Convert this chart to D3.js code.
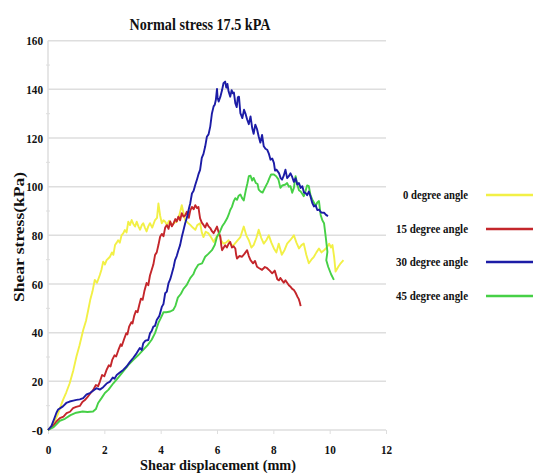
<!DOCTYPE html>
<html>
<head>
<meta charset="utf-8">
<script src="https://cdn.jsdelivr.net/npm/d3@7/dist/d3.min.js"></script>
<style>
  html, body { margin: 0; padding: 0; background: #fff; }
  svg { display: block; }
  text { font-family: "Liberation Serif", "Times New Roman", serif; font-weight: bold; fill: #111; }
</style>
</head>
<body>
<svg id="chart" width="541" height="473"></svg>
<script>
// Shear stress vs. shear displacement, normal stress 17.5 kPa
const seriesNames = ["0 degree angle", "15 degree angle", "30 degree angle", "45 degree angle"];
const seriesColors = ["#f2f046", "#c4262b", "#1c1ca6", "#46d046"];

const xTicks = [0, 2, 4, 6, 8, 10, 12];
const yTicks = [0, 20, 40, 60, 80, 100, 120, 140, 160];
const yTickLabels = ["-0", "20", "40", "60", "80", "100", "120", "140", "160"];

// [displacement (mm), shear stress (kPa)]
const angle0 = [[0,0],[0.2,2.6],[0.35,6.5],[0.53,12.3],[0.65,15.5],[0.77,19.2],[0.9,24.6],[1.01,30.2],[1.12,34.8],[1.25,41.1],[1.35,44.9],[1.43,49.4],[1.5,53.5],[1.58,57],[1.66,61.7],[1.74,60.5],[1.84,63.7],[1.9,66],[1.96,69.2],[2.02,68],[2.08,69.8],[2.14,70.5],[2.2,71.2],[2.27,73],[2.32,72],[2.38,76],[2.44,77],[2.49,78],[2.55,77],[2.61,80],[2.67,80.8],[2.73,82.2],[2.79,81.2],[2.85,85.6],[2.91,84.2],[2.97,86.3],[3.03,84.7],[3.09,83.6],[3.15,85.6],[3.21,83.7],[3.27,82.3],[3.33,84.2],[3.38,85],[3.44,83.2],[3.5,81.6],[3.56,83.7],[3.62,85],[3.7,83.2],[3.8,86.3],[3.87,87.2],[3.92,93.1],[3.98,88.2],[4.04,85],[4.1,86.2],[4.16,85.6],[4.22,84.2],[4.3,86],[4.4,84.3],[4.49,85.2],[4.57,85.6],[4.66,88.2],[4.75,92.4],[4.81,89.2],[4.87,86.3],[4.96,85.2],[5.05,84.3],[5.14,83.2],[5.23,82.3],[5.3,84.2],[5.4,85],[5.46,81.2],[5.52,79.3],[5.6,81.5],[5.7,80.8],[5.8,79],[5.88,77.3],[5.96,79],[6.06,80.8],[6.14,78],[6.23,76.6],[6.32,77],[6.41,78],[6.5,76],[6.59,76],[6.7,77.5],[6.83,79.3],[6.95,83.6],[7.04,80],[7.13,78],[7.22,75],[7.3,76],[7.4,79],[7.48,82.3],[7.57,79],[7.66,76.6],[7.75,78],[7.84,80],[7.93,77],[8.02,74.6],[8.11,73],[8.19,76.6],[8.3,72],[8.4,74],[8.49,76.6],[8.6,78],[8.73,80],[8.82,77],[8.91,74.6],[9.0,76],[9.08,76.6],[9.17,72],[9.26,68.5],[9.35,70],[9.44,71.2],[9.53,73],[9.62,74.6],[9.71,73],[9.8,73.9],[9.9,75],[9.98,76.6],[10.05,75],[10.1,76],[10.16,71],[10.21,65.1],[10.3,67],[10.39,68.5],[10.49,69.8]];

const angle15 = [[0,0],[0.15,1.2],[0.3,3.5],[0.42,4.9],[0.55,5.5],[0.66,6.9],[0.78,7.5],[0.89,9],[1.0,9.5],[1.13,9.9],[1.22,11.5],[1.31,12.3],[1.4,13.5],[1.5,15],[1.6,16.4],[1.7,18.5],[1.78,18],[1.84,19.8],[1.92,22.6],[2.0,22.1],[2.08,24.7],[2.16,26.6],[2.22,26.1],[2.28,28.8],[2.36,30.7],[2.42,30.2],[2.5,32.9],[2.58,35.2],[2.62,34.5],[2.7,37.3],[2.78,39.8],[2.82,39.3],[2.88,42.5],[2.96,44.3],[3.0,43.8],[3.06,46.9],[3.12,48.9],[3.18,48.4],[3.24,51.4],[3.3,54],[3.36,53.5],[3.42,57],[3.5,60.4],[3.56,59.5],[3.62,63.5],[3.68,65.8],[3.74,68],[3.8,71.9],[3.86,73],[3.92,76],[3.98,79.4],[4.04,80.6],[4.1,79.6],[4.16,83.2],[4.22,84.2],[4.28,82.7],[4.34,85.7],[4.4,83.7],[4.46,85],[4.52,86.7],[4.57,85.7],[4.63,87.7],[4.69,86.2],[4.75,89.1],[4.81,87.7],[4.87,88.2],[4.93,89.7],[5.0,87.2],[5.05,90.2],[5.11,91.7],[5.17,90.7],[5.23,92.4],[5.29,91.2],[5.34,91.7],[5.37,89.2],[5.4,87],[5.46,85.2],[5.52,84.3],[5.58,83.2],[5.64,85],[5.7,83.7],[5.76,83],[5.82,81.7],[5.88,80.9],[5.94,82.2],[6.0,83.6],[6.06,81.2],[6.12,79.4],[6.15,76],[6.18,73.9],[6.24,75],[6.29,75.9],[6.35,75],[6.41,76.5],[6.47,77.3],[6.53,75],[6.59,75.5],[6.65,74.6],[6.68,72],[6.71,70.5],[6.8,71.5],[6.89,71.2],[6.98,72.5],[7.07,73.9],[7.13,71.5],[7.19,69.8],[7.28,68.5],[7.35,69.5],[7.42,67.1],[7.5,66.5],[7.6,65.8],[7.7,67],[7.78,66.5],[7.87,65.5],[7.96,64.4],[8.05,65.5],[8.14,62],[8.2,61.5],[8.25,62.5],[8.31,61.5],[8.37,60.5],[8.43,61.5],[8.49,60.5],[8.55,59.5],[8.6,59],[8.67,58],[8.73,57.5],[8.79,56.4],[8.85,54.9],[8.9,53.9],[8.94,52.4],[8.97,50.9]];

const angle30 = [[0,0],[0.12,1.6],[0.22,4.6],[0.3,7.1],[0.36,8.4],[0.45,9.1],[0.53,9.7],[0.65,11.1],[0.77,11.7],[0.9,12.1],[1.01,12.4],[1.13,12.6],[1.25,13.1],[1.37,14.6],[1.49,15.2],[1.6,16.1],[1.72,17.2],[1.84,16.6],[1.96,17.6],[2.08,19.1],[2.2,19.9],[2.3,21.6],[2.36,21.1],[2.44,22.6],[2.55,23.6],[2.67,24.7],[2.79,26.1],[2.91,28],[3.03,29.7],[3.15,31.6],[3.26,33.7],[3.33,32.9],[3.38,35.6],[3.46,36.7],[3.56,37],[3.62,39.7],[3.68,40.7],[3.74,42.5],[3.8,42.8],[3.86,45.2],[3.95,46.8],[4.04,50.6],[4.1,51.8],[4.16,56.2],[4.22,56.9],[4.28,60.4],[4.34,62],[4.4,64.4],[4.46,67],[4.51,69.8],[4.57,71.5],[4.63,73.9],[4.69,76],[4.75,79.3],[4.81,82.1],[4.87,85],[4.93,87.2],[4.99,90.4],[5.05,93.2],[5.11,97.2],[5.17,98.3],[5.23,100.8],[5.3,103.4],[5.35,105.4],[5.4,106.9],[5.46,111.8],[5.52,113.5],[5.58,116.5],[5.64,120.5],[5.7,121.5],[5.76,124.7],[5.82,130.1],[5.88,133],[5.92,133.7],[5.96,135.7],[6.0,140.2],[6.02,136.7],[6.06,135],[6.12,137],[6.18,139.7],[6.23,142.5],[6.29,143.2],[6.33,140.7],[6.37,142.2],[6.41,139.2],[6.47,137],[6.52,139.7],[6.56,138.4],[6.6,138.7],[6.65,134.3],[6.7,132.7],[6.74,136.7],[6.78,137],[6.83,130.2],[6.9,128.2],[6.96,131.6],[7.02,129.7],[7.07,127.6],[7.13,125.7],[7.19,128.9],[7.25,124.1],[7.3,121.7],[7.36,125.5],[7.42,123.7],[7.48,120.6],[7.54,118.1],[7.6,121.3],[7.66,116.6],[7.72,115.6],[7.78,115.2],[7.84,113.6],[7.9,111.1],[7.96,111.6],[8.02,109.8],[8.06,106.6],[8.11,107],[8.2,105.6],[8.26,103.5],[8.31,102.9],[8.37,104.5],[8.43,107],[8.49,103.5],[8.55,104.3],[8.61,105.5],[8.67,104],[8.73,102],[8.79,103.5],[8.85,100.9],[8.91,101.5],[8.97,99.5],[9.03,100.2],[9.09,97.5],[9.14,97.5],[9.2,96.5],[9.26,98],[9.32,96],[9.38,93.4],[9.44,91.9],[9.5,92.4],[9.56,90.4],[9.62,90.6],[9.7,89.4],[9.8,89.3],[9.87,88.4],[9.94,87.9]];

const angle45 = [[0,0],[0.2,1.2],[0.42,3.8],[0.6,4.6],[0.8,6.1],[1.0,7.1],[1.23,7.6],[1.4,7.4],[1.6,7.6],[1.7,8.6],[1.78,11.1],[1.9,13.1],[2.02,15.2],[2.15,16.6],[2.32,19.2],[2.5,21.6],[2.67,24.1],[2.85,26.7],[3.03,28.8],[3.2,30.7],[3.38,32.9],[3.53,34.8],[3.68,37.1],[3.8,39.8],[3.92,44],[4.0,45.9],[4.1,48.4],[4.2,48.4],[4.34,48.7],[4.45,49.4],[4.52,50.9],[4.61,54.4],[4.72,56],[4.81,58],[4.92,59.5],[5.05,62.4],[5.16,64],[5.23,66],[5.34,68],[5.47,68.5],[5.58,71.2],[5.7,72.5],[5.82,73.9],[5.92,76],[6.0,79.4],[6.09,81.1],[6.18,83.6],[6.27,85.2],[6.36,87],[6.42,88.7],[6.47,90.4],[6.53,91.7],[6.59,93.9],[6.65,95.3],[6.71,94.6],[6.77,96.3],[6.83,96.8],[6.89,95.3],[6.95,94.3],[7.02,98.4],[7.08,101.4],[7.13,104.3],[7.19,104.5],[7.25,102.5],[7.3,103.6],[7.38,101.5],[7.44,101.1],[7.48,98.8],[7.55,98],[7.62,97.6],[7.7,99.5],[7.8,101.8],[7.86,103.5],[7.92,105],[8.02,105],[8.1,104.3],[8.18,103],[8.25,99.5],[8.32,100.5],[8.43,100.9],[8.49,101.5],[8.55,100],[8.61,100.2],[8.67,97.5],[8.73,99.5],[8.79,104.3],[8.85,100.9],[8.91,98.5],[8.97,98],[9.03,97],[9.08,96.1],[9.15,98.5],[9.2,100.5],[9.26,100.2],[9.32,96.5],[9.38,94.8],[9.44,93.5],[9.5,92],[9.56,93.5],[9.62,94.1],[9.68,88.4],[9.74,86.2],[9.8,85],[9.86,79.4],[9.92,73.2],[9.88,69.8],[9.95,67],[10.05,64],[10.15,61.7]];

const seriesData = [angle0, angle15, angle30, angle45];
// drawing order: green under blue where they overlap
const drawOrder = [0, 1, 3, 2];

const svg = d3.select("#chart");
const x = d3.scaleLinear().domain([0, 12]).range([48, 386]);
const y = d3.scaleLinear().domain([0, 160]).range([430, 40.7]);

const gridColor = "#dedede";

// horizontal grid
svg.append("g").selectAll("line").data(yTicks.filter(d => d > 0)).join("line")
  .attr("x1", x(0)).attr("x2", x(12))
  .attr("y1", d => y(d)).attr("y2", d => y(d))
  .attr("stroke", gridColor).attr("stroke-width", 1.5);

// axis lines
svg.append("line").attr("x1", x(0)).attr("x2", x(12)).attr("y1", y(0)).attr("y2", y(0))
  .attr("stroke", gridColor).attr("stroke-width", 1.5);
svg.append("line").attr("x1", x(0)).attr("x2", x(0)).attr("y1", y(0)).attr("y2", y(160))
  .attr("stroke", gridColor).attr("stroke-width", 1.5);

// minor y ticks
svg.append("g").selectAll("line").data(d3.range(10, 160, 20)).join("line")
  .attr("x1", x(0) - 2).attr("x2", x(0) + 2)
  .attr("y1", d => y(d)).attr("y2", d => y(d))
  .attr("stroke", gridColor).attr("stroke-width", 1);

// x axis ticks and labels
const xAxis = d3.axisBottom(x).tickValues(xTicks).tickSize(4).tickPadding(11).tickFormat(d3.format("d"));
const gx = svg.append("g").attr("transform", `translate(0,${y(0)})`).call(xAxis);
gx.select(".domain").remove();
gx.selectAll(".tick line").attr("stroke", gridColor);
gx.selectAll(".tick text")
  .attr("font-family", "Liberation Serif, serif").attr("font-weight", "bold")
  .attr("font-size", 12).attr("fill", "#111")
  .attr("textLength", d => String(d).length * 5.6).attr("lengthAdjust", "spacingAndGlyphs");

// y axis labels
const yAxis = d3.axisLeft(y).tickValues(yTicks).tickSize(0).tickPadding(5)
  .tickFormat((d, i) => yTickLabels[i]);
const gy = svg.append("g").attr("transform", `translate(${x(0)},0)`).call(yAxis);
gy.select(".domain").remove();
gy.selectAll(".tick text")
  .attr("font-family", "Liberation Serif, serif").attr("font-weight", "bold")
  .attr("font-size", 13).attr("fill", "#111")
  .attr("textLength", (d, i) => yTickLabels[i].length * 5.6).attr("lengthAdjust", "spacingAndGlyphs");

// series lines
const line = d3.line().x(d => x(d[0])).y(d => y(d[1]));
svg.append("g").selectAll("path").data(drawOrder).join("path")
  .attr("d", i => line(seriesData[i]))
  .attr("fill", "none")
  .attr("stroke", i => seriesColors[i])
  .attr("stroke-width", 1.9)
  .attr("stroke-linejoin", "round");

// title
svg.append("text").attr("x", 200).attr("y", 30).attr("text-anchor", "middle")
  .attr("font-size", 16).attr("textLength", 141).attr("lengthAdjust", "spacingAndGlyphs")
  .text("Normal stress 17.5 kPA");

// axis titles
svg.append("text").attr("transform", "translate(24,237) rotate(-90)")
  .attr("text-anchor", "middle").attr("font-size", 15)
  .attr("textLength", 130).attr("lengthAdjust", "spacingAndGlyphs")
  .text("Shear stress(kPa)");
svg.append("text").attr("x", 218).attr("y", 469.5).attr("text-anchor", "middle")
  .attr("font-size", 15).attr("textLength", 156).attr("lengthAdjust", "spacingAndGlyphs")
  .text("Shear displacement (mm)");

// legend
const legendY = [195, 229, 262, 296];
const legend = svg.append("g");
seriesNames.forEach((name, i) => {
  legend.append("text").attr("x", 468).attr("y", legendY[i] + 4).attr("text-anchor", "end")
    .attr("font-size", 12).attr("textLength", i === 0 ? 65 : 72).attr("lengthAdjust", "spacingAndGlyphs")
    .text(name);
  legend.append("line").attr("x1", 486).attr("x2", 533)
    .attr("y1", legendY[i]).attr("y2", legendY[i])
    .attr("stroke", seriesColors[i]).attr("stroke-width", 2.5);
});
</script>
</body>
</html>
